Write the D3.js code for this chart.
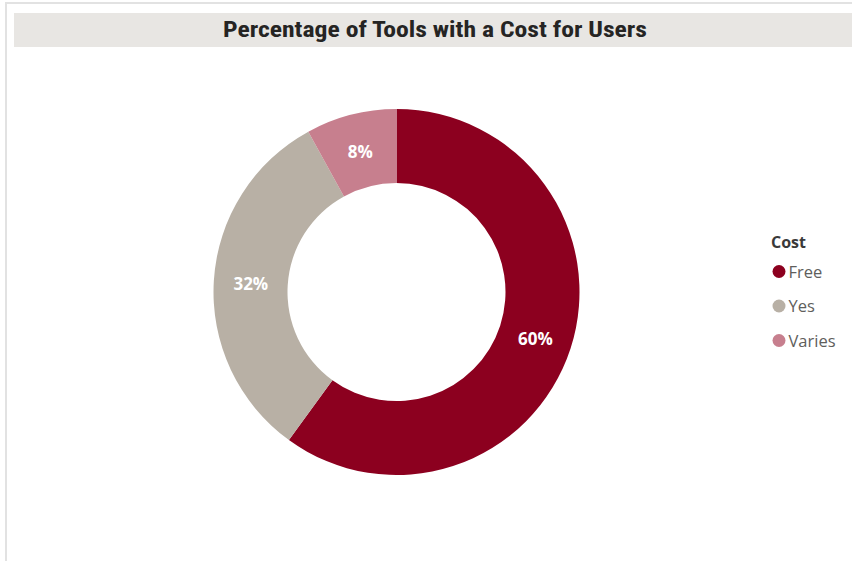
<!DOCTYPE html>
<html><head><meta charset="utf-8">
<script src="https://cdn.jsdelivr.net/npm/d3@7"></script>
<style>html,body{margin:0;padding:0;background:#fff;}</style>
</head><body>
<svg id="chart" width="852" height="561"></svg>
<script>
const categories = ["Free", "Yes", "Varies"];
const values = [60, 32, 8];
const colors = ["#8C001F", "#B8B0A5", "#C77F8E"];
const title = "Percentage of Tools with a Cost for Users";
const legendTitle = "Cost";

const svg = d3.select("#chart");
// frame
svg.append("rect").attr("x",6).attr("y",3).attr("width",850).attr("height",565)
  .attr("fill","none").attr("stroke","#e2e2e2").attr("stroke-width",2);
// title bar
svg.append("rect").attr("x",14).attr("y",13).attr("width",838).attr("height",34).attr("fill","#E8E6E3");
svg.append("text").attr("x",435).attr("y",36.5).attr("text-anchor","middle")
  .attr("font-family","'Liberation Sans Narrow','Roboto Condensed',Roboto,sans-serif")
  .attr("font-weight",700).attr("font-size",22).attr("fill","#252423")
  .attr("textLength",424).attr("lengthAdjust","spacingAndGlyphs")
  .text(title);

const cx = 396.5, cy = 292, rOuter = 183, rInner = 109;
const data = categories.map((c,i)=>({cat:c, value:values[i], color:colors[i]}));
const pie = d3.pie().value(d=>d.value).sort(null);
const arc = d3.arc().innerRadius(rInner).outerRadius(rOuter);
const labelArc = d3.arc().innerRadius(146).outerRadius(146);
const total = d3.sum(values);
const g = svg.append("g").attr("transform",`translate(${cx},${cy})`);
const arcs = pie(data);
g.selectAll("path").data(arcs).join("path").attr("d",arc).attr("fill",d=>d.data.color);
g.selectAll("text").data(arcs).join("text")
  .attr("transform",d=>`translate(${labelArc.centroid(d)})`)
  .attr("text-anchor","middle").attr("dy","0.45em")
  .attr("font-family","'Open Sans','Noto Sans',sans-serif").attr("font-weight",700)
  .attr("font-size",17).attr("fill","#fff")
  .text(d=>Math.round(d.data.value/total*100)+"%");

// legend
const lg = svg.append("g");
lg.append("text").attr("x",771).attr("y",248).attr("font-family","'Open Sans','Noto Sans',sans-serif")
  .attr("font-weight",700).attr("font-size",16).attr("fill","#3a3a3a").text(legendTitle);
const y = d3.scalePoint().domain(categories).range([271.5,340.5]);
const items = lg.selectAll("g.item").data(data).join("g").attr("class","item")
  .attr("transform",d=>`translate(0,${y(d.cat)})`);
items.append("circle").attr("cx",779).attr("cy",0).attr("r",6.5).attr("fill",d=>d.color);
items.append("text").attr("x",788.5).attr("y",0).attr("dy","0.38em")
  .attr("font-family","'Open Sans','Noto Sans',sans-serif").attr("font-size",16.5)
  .attr("fill","#605E5C").text(d=>d.cat);
</script>
</body></html>
